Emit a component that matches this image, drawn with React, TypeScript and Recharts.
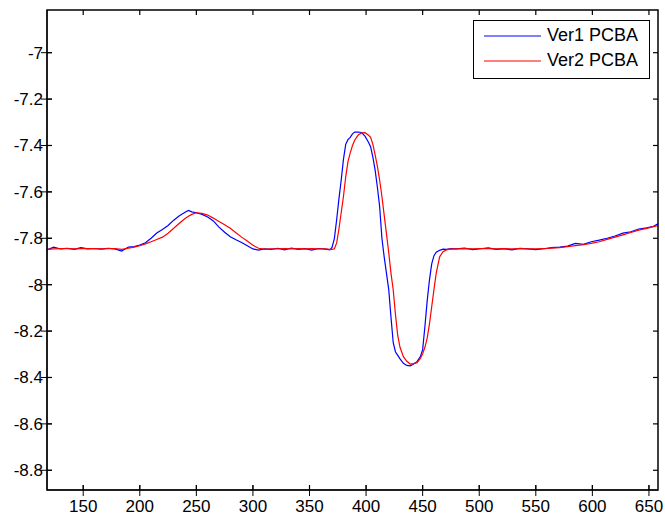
import React from "react";
import { LineChart, Line, XAxis, YAxis } from "recharts";

// sample positions (shared by both boards)
const xs = [
  118, 124, 130, 136, 142, 148, 154, 160, 166, 172, 178, 184,
  190, 195, 200, 205, 210, 215, 220, 225, 230, 235, 240, 243, 246, 250, 255, 260, 265, 270, 275, 280, 285, 290, 295, 300, 305,
  310, 316, 322, 328, 334, 340, 346, 352, 358, 364, 368,
  370, 372, 374, 376, 378, 380, 382, 384, 386, 388, 390, 393, 396, 399, 402, 404, 406, 408, 410, 412, 414, 416, 418, 420,
  422, 424, 426, 428, 430, 433, 436, 439, 442, 445, 448, 450, 452, 454, 456, 458, 460, 462, 465, 468, 471, 475,
  480, 487, 494, 501, 508, 515, 522, 529, 536, 543, 550, 557, 564, 571, 578, 585, 592, 599, 606, 613, 620, 627, 634, 641, 648, 654, 658,
];

const ver1 = [
  -7.850, -7.838, -7.846, -7.843, -7.848, -7.840, -7.846, -7.844, -7.847, -7.843, -7.846, -7.855,
  -7.838, -7.836, -7.829, -7.819, -7.800, -7.777, -7.762, -7.745, -7.722, -7.703, -7.688, -7.680, -7.686, -7.690, -7.697, -7.708, -7.725, -7.752, -7.774, -7.793, -7.806, -7.818, -7.832, -7.846, -7.851,
  -7.846, -7.848, -7.843, -7.850, -7.842, -7.848, -7.845, -7.851, -7.844, -7.847, -7.850,
  -7.838, -7.800, -7.720, -7.630, -7.550, -7.460, -7.395, -7.375, -7.365, -7.350, -7.342, -7.342, -7.344, -7.360, -7.385, -7.405, -7.450, -7.506, -7.580, -7.664, -7.800, -7.880, -7.950, -8.020,
  -8.140, -8.250, -8.290, -8.305, -8.320, -8.339, -8.348, -8.350, -8.342, -8.332, -8.310, -8.280, -8.180, -8.070, -7.980, -7.910, -7.875, -7.860, -7.852, -7.847, -7.848, -7.845,
  -7.846, -7.842, -7.849, -7.845, -7.841, -7.848, -7.845, -7.850, -7.843, -7.846, -7.849, -7.845, -7.840, -7.838, -7.834, -7.822, -7.826, -7.815, -7.808, -7.800, -7.790, -7.778, -7.772, -7.760, -7.755, -7.748, -7.738,
];

const ver2 = [
  -7.848, -7.846, -7.845, -7.845, -7.846, -7.845, -7.845, -7.845, -7.846, -7.845, -7.845, -7.848,
  -7.843, -7.838, -7.832, -7.824, -7.815, -7.805, -7.795, -7.778, -7.757, -7.735, -7.715, -7.705, -7.697, -7.690, -7.693, -7.700, -7.713, -7.728, -7.742, -7.757, -7.776, -7.795, -7.812, -7.830, -7.843,
  -7.847, -7.846, -7.846, -7.845, -7.846, -7.845, -7.846, -7.845, -7.846, -7.846, -7.848,
  -7.848, -7.845, -7.820, -7.760, -7.690, -7.620, -7.535, -7.470, -7.432, -7.400, -7.376, -7.355, -7.346, -7.345, -7.355, -7.365, -7.395, -7.440, -7.490, -7.550, -7.620, -7.700, -7.780, -7.860,
  -7.950, -8.023, -8.130, -8.220, -8.270, -8.310, -8.330, -8.342, -8.340, -8.336, -8.318, -8.298, -8.270, -8.230, -8.170, -8.095, -8.020, -7.950, -7.880, -7.858, -7.850, -7.846,
  -7.846, -7.845, -7.846, -7.845, -7.845, -7.846, -7.845, -7.846, -7.845, -7.846, -7.846, -7.845, -7.842, -7.840, -7.836, -7.832, -7.828, -7.822, -7.815, -7.805, -7.795, -7.785, -7.775, -7.765, -7.757, -7.750, -7.746,
];

const xTicks = [150, 200, 250, 300, 350, 400, 450, 500, 550, 600, 650];
const yTicks = [-8.8, -8.6, -8.4, -8.2, -8, -7.8, -7.6, -7.4, -7.2, -7];

const xDomain = [118, 658];
const yDomain = [-8.885, -6.816];

const data = xs.map((x, i) => ({ x, ver1: ver1[i], ver2: ver2[i] }));

const font = "Liberation Sans, Arial, sans-serif";

// plot box edges (px)
const LEFT = 47;
const RIGHT = 658;
const TOP = 10;
const BOTTOM = 490;

// same linear mapping as the chart's plot box, only for the frame overlay
const px = (v: number) => LEFT + ((v - xDomain[0]) / (xDomain[1] - xDomain[0])) * (RIGHT - LEFT);
const py = (v: number) => BOTTOM - ((v - yDomain[0]) / (yDomain[1] - yDomain[0])) * (BOTTOM - TOP);

const BottomTick = (p: any) => (
  <g>
    <line x1={p.x} x2={p.x} y1={BOTTOM} y2={BOTTOM - 5} stroke="#000" strokeWidth={1} />
    <text x={p.x} y={512} textAnchor="middle" fontSize={17} fontFamily={font} fill="#000">
      {p.payload.value}
    </text>
  </g>
);

const LeftTick = (p: any) => (
  <g>
    <line x1={LEFT} x2={LEFT + 5} y1={p.y} y2={p.y} stroke="#000" strokeWidth={1} />
    <text x={LEFT - 4} y={p.y + 6} textAnchor="end" fontSize={17} fontFamily={font} fill="#000">
      {String(p.payload.value)}
    </text>
  </g>
);

function Frame() {
  return (
    <svg
      width={665}
      height={518}
      style={{ position: "absolute", left: 0, top: 0, pointerEvents: "none" }}
    >
      <rect x={LEFT} y={TOP} width={RIGHT - LEFT} height={BOTTOM - TOP} fill="none" stroke="#000" strokeWidth={1.5} />
      {xTicks.map((t) => (
        <g key={"x" + t}>
          <line x1={px(t)} x2={px(t)} y1={TOP} y2={TOP + 5} stroke="#000" strokeWidth={1.2} />
          <line x1={px(t)} x2={px(t)} y1={BOTTOM} y2={BOTTOM - 5} stroke="#000" strokeWidth={1.2} />
        </g>
      ))}
      {yTicks.map((t) => (
        <g key={"y" + t}>
          <line x1={LEFT} x2={LEFT + 5} y1={py(t)} y2={py(t)} stroke="#000" strokeWidth={1.2} />
          <line x1={RIGHT - 5} x2={RIGHT} y1={py(t)} y2={py(t)} stroke="#000" strokeWidth={1.2} />
        </g>
      ))}
    </svg>
  );
}

export default function App() {
  return (
    <div style={{ position: "absolute", left: 0, top: 0, width: 665, height: 518, background: "#fff" }}>
      <LineChart width={665} height={518} data={data} margin={{ top: 10, right: 7, left: 0, bottom: 0 }}>
        <XAxis
          dataKey="x"
          type="number"
          domain={xDomain}
          ticks={xTicks}
          height={28}
          tick={BottomTick}
          stroke="#000"
        />
        <YAxis
          type="number"
          domain={yDomain}
          ticks={yTicks}
          width={47}
          tick={LeftTick}
          stroke="#000"
        />
        <Line
          type="linear"
          dataKey="ver1"
          stroke="#0000ff"
          strokeWidth={1.2}
          dot={false}
          isAnimationActive={false}
        />
        <Line
          type="linear"
          dataKey="ver2"
          stroke="#ff0000"
          strokeWidth={1.2}
          dot={false}
          isAnimationActive={false}
        />
      </LineChart>
      <Frame />
      <div
        style={{
          position: "absolute",
          left: 473,
          top: 20,
          width: 175,
          height: 57,
          border: "1px solid #000",
          background: "#fff",
          fontFamily: font,
          fontSize: 18,
          color: "#000",
        }}
      >
        <svg width={70} height={57} style={{ position: "absolute", left: 0, top: 0 }}>
          <line x1={10} x2={67} y1={15} y2={15} stroke="#0000ff" strokeWidth={1.2} />
          <line x1={10} x2={67} y1={40} y2={40} stroke="#ff0000" strokeWidth={1.2} />
        </svg>
        <div style={{ position: "absolute", left: 73, top: 4, lineHeight: "20px" }}>Ver1 PCBA</div>
        <div style={{ position: "absolute", left: 73, top: 29, lineHeight: "20px" }}>Ver2 PCBA</div>
      </div>
    </div>
  );
}
